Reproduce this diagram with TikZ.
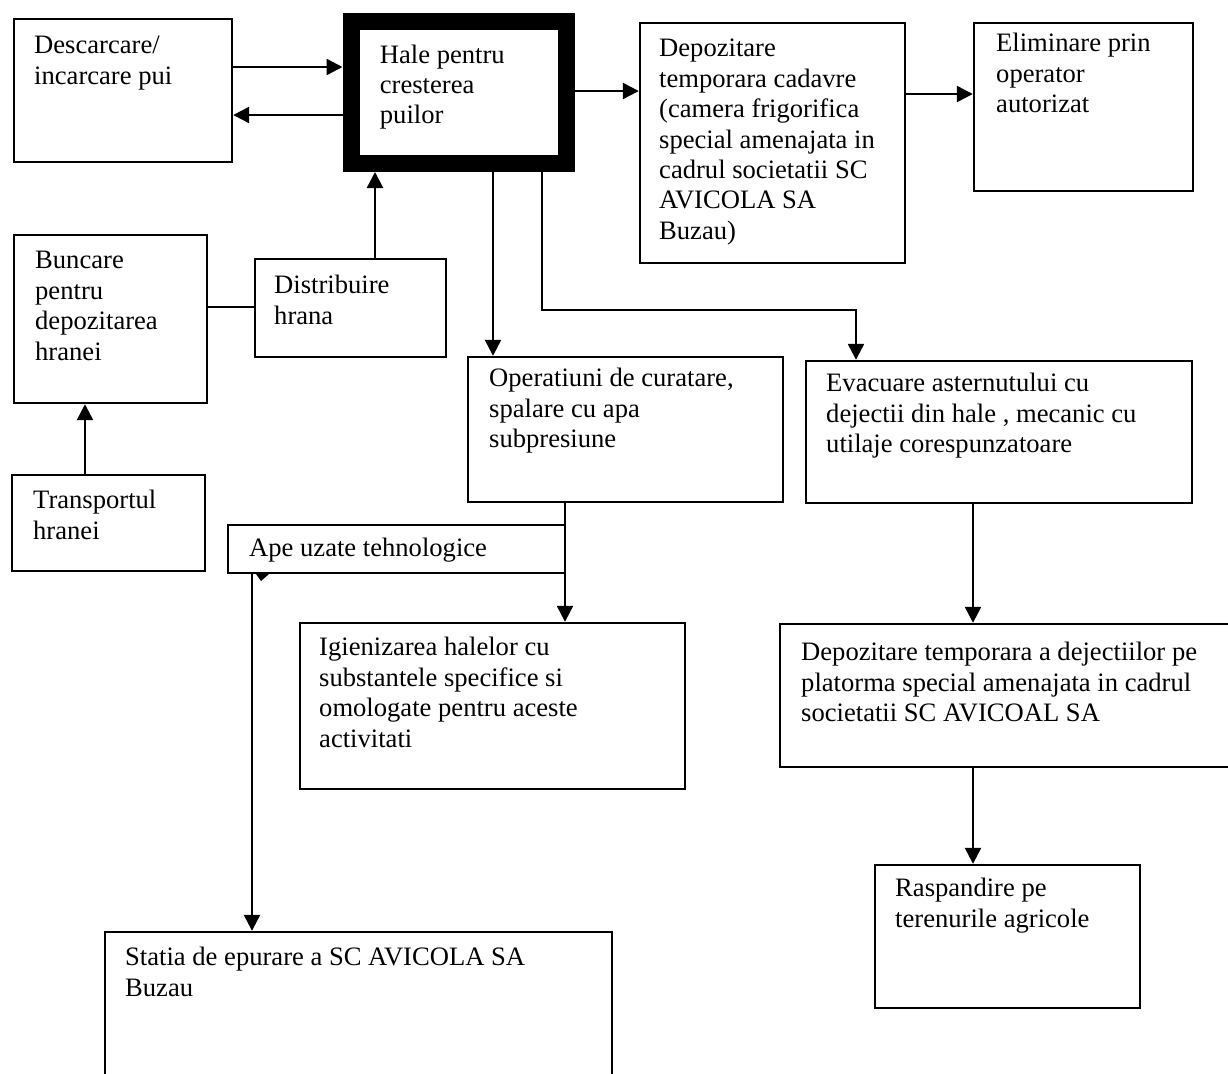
\documentclass[tikz,border=0pt]{standalone}
\usepackage{fontspec}
\setmainfont{Liberation Serif}
\usetikzlibrary{fit,arrows.meta,calc}
\newcommand\mlines[1]{\begin{tabular}[t]{@{}l@{}}#1\end{tabular}}
\begin{document}
\begin{tikzpicture}[x=0.5pt,y=-0.5pt,
  box/.style={draw, line width=1.2pt, inner sep=0pt},
  thickbox/.style={draw, line width=8.5pt, inner sep=0pt},
  lbl/.style={anchor=base west, inner sep=0pt, font=\fontsize{13.3pt}{15.2pt}\selectfont},
  conn/.style={line width=1.2pt},
  arr/.style={conn, -{Triangle[length=8pt,width=8pt]}}
]
\useasboundingbox (0,0) rectangle (1228,1073);
% boxes
\node[box, fit={(14,19) (232,162)}] (desc) {};
\node[thickbox, fit={(351,21.5) (566.5,163.5)}] (hale) {};
\node[box, fit={(640,23) (905,263)}] (depcad) {};
\node[box, fit={(974,23) (1193,191)}] (elim) {};
\node[box, fit={(14,235) (207,403)}] (bunc) {};
\node[box, fit={(255,259) (446,357)}] (dist) {};
\node[box, fit={(12,475) (205,571)}] (trans) {};
\node[box, fit={(468,357) (783,502)}] (oper) {};
\node[box, fit={(806,361) (1192,503)}] (evac) {};
\node[box, fit={(228,525) (565,573)}] (ape) {};
\node[box, fit={(300,623) (685,789)}] (igien) {};
\node[box, fit={(780,624) (1240,767)}] (depdej) {};
\node[box, fit={(875,865) (1140,1008)}] (rasp) {};
\node[box, fit={(105,932) (612,1090)}] (statia) {};
% texts
\node[lbl] (tdesc) at ($(desc.north west)+(21,36)$) {\mlines{Descarcare/\\incarcare pui}};
\node[lbl] (thale) at ($(hale.north west)+(37,50)$) {\mlines{Hale pentru\\cresterea\\puilor}};
\node[lbl] (tdepcad) at ($(depcad.north west)+(20,35)$) {\mlines{Depozitare\\temporara cadavre\\(camera frigorifica\\special amenajata in\\cadrul societatii SC\\AVICOLA SA\\Buzau)}};
\node[lbl] (telim) at ($(elim.north west)+(23,30)$) {\mlines{Eliminare prin\\operator\\autorizat}};
\node[lbl] (tbunc) at ($(bunc.north west)+(22,35)$) {\mlines{Buncare\\pentru\\depozitarea\\hranei}};
\node[lbl] (tdist) at ($(dist.north west)+(20,36)$) {\mlines{Distribuire\\hrana}};
\node[lbl] (ttrans) at ($(trans.north west)+(22,35)$) {\mlines{Transportul\\hranei}};
\node[lbl] (toper) at ($(oper.north west)+(22,31)$) {\mlines{Operatiuni de curatare,\\spalare cu apa\\subpresiune}};
\node[lbl] (tevac) at ($(evac.north west)+(21,32)$) {\mlines{Evacuare asternutului cu\\dejectii din hale , mecanic cu\\utilaje corespunzatoare}};
\node[lbl] (tape) at ($(ape.north west)+(22,33)$) {Ape uzate tehnologice};
\node[lbl] (tigien) at ($(igien.north west)+(20,34)$) {\mlines{Igienizarea halelor cu\\substantele specifice si\\omologate pentru aceste\\activitati}};
\node[lbl] (tdepdej) at ($(depdej.north west)+(22,38)$) {\mlines{Depozitare temporara a dejectiilor pe\\platorma special amenajata in cadrul\\societatii SC AVICOAL SA}};
\node[lbl] (trasp) at ($(rasp.north west)+(21,33)$) {\mlines{Raspandire pe\\terenurile agricole}};
\node[lbl] (tstatia) at ($(statia.north west)+(21,35)$) {\mlines{Statia de epurare a SC AVICOLA SA\\Buzau}};
% connectors
\draw[arr] (desc.east |- 0,67) -- (hale.west |- 0,67);
\draw[arr] (hale.west |- 0,115) -- (desc.east |- 0,115);
\draw[arr] (hale.east |- 0,91) -- (depcad.west |- 0,91);
\draw[arr] (depcad.east |- 0,94) -- (elim.west |- 0,94);
\draw[arr] (dist.north -| 375,0) -- (hale.south -| 375,0);
\draw[conn] (bunc.east |- 0,307) -- (dist.west |- 0,307);
\draw[arr] (trans.north -| 85,0) -- (bunc.south -| 85,0);
\draw[arr] (hale.south -| 493,0) -- (oper.north -| 493,0);
\coordinate (bend) at (856,310);
\draw[arr] (hale.south -| 542,0) |- (bend) -- (evac.north -| bend);
\draw[arr] (oper.south -| 565,0) -- (igien.north -| 565,0);
\draw[arr] (ape.south -| 252,0) -- (statia.north -| 252,0);
\fill (256,574) -- (269,574) -- (261,581) -- cycle;
\draw[arr] (evac.south -| 973,0) -- (depdej.north -| 973,0);
\draw[arr] (depdej.south -| 973,0) -- (rasp.north -| 973,0);
\end{tikzpicture}
\end{document}
